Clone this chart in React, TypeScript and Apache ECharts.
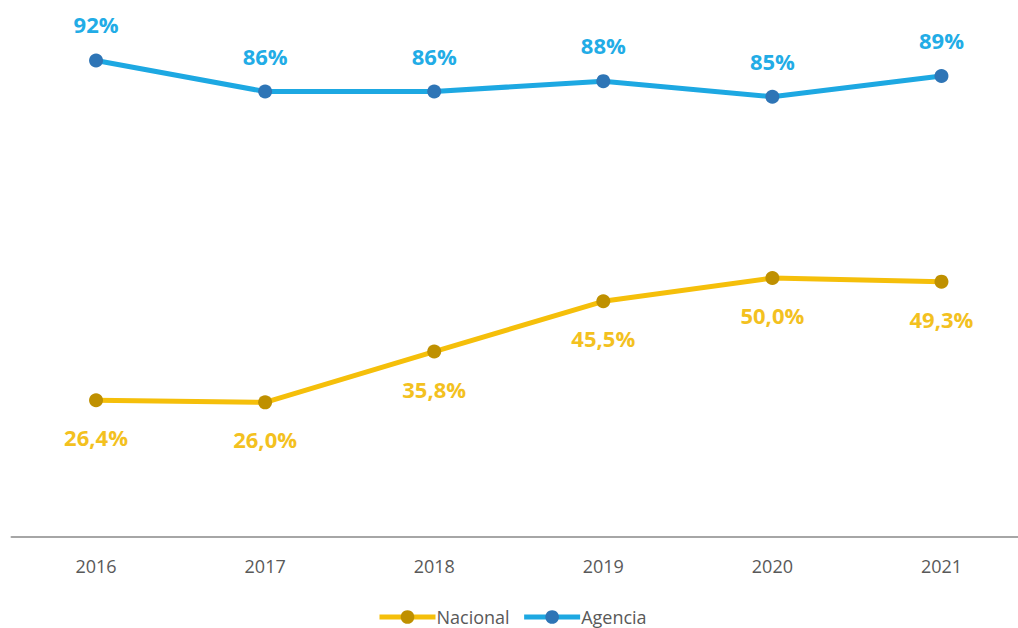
import React, { useEffect, useRef } from "react";
import * as echarts from "echarts";

const years = ["2016", "2017", "2018", "2019", "2020", "2021"];
const nacional = [26.4, 26.0, 35.8, 45.5, 50.0, 49.3];
const agencia = [92, 86, 86, 88, 85, 89];

export default function App() {
  const ref = useRef<HTMLDivElement>(null);
  useEffect(() => {
    if (!ref.current) return;
    const chart = echarts.init(ref.current, null, { renderer: "svg" });
    chart.setOption({
      animation: false,
      backgroundColor: "#ffffff",
      grid: { left: 11.5, right: 0, top: 19, bottom: 91, containLabel: false },
      xAxis: {
        type: "category",
        data: years,
        boundaryGap: true,
        axisLine: { show: true, lineStyle: { color: "#A6A6A6", width: 2 } },
        axisTick: { show: false },
        axisLabel: { color: "#595959", fontSize: 18, margin: 20, fontFamily: "Open Sans" },
      },
      yAxis: {
        type: "value",
        min: 0,
        max: 100,
        show: false,
        splitLine: { show: false },
      },
      legend: {
        top: 603,
        left: 372,
        itemWidth: 56,
        itemHeight: 17,
        itemGap: 12,
        lineStyle: { width: 5 },
        textStyle: { color: "#595959", fontSize: 18, fontFamily: "Open Sans", padding: [0, 0, 0, -4] },
        data: ["Nacional", "Agencia"],
      },
      series: [
        {
          name: "Nacional",
          type: "line",
          data: nacional,
          symbol: "circle",
          symbolSize: 14,
          lineStyle: { color: "#F5BF0A", width: 5 },
          itemStyle: { color: "#BF9000" },
          label: {
            show: true,
            position: "bottom",
            distance: 19,
            color: "#F3C11F",
            fontSize: 22,
            fontWeight: "bold",
            fontFamily: "Open Sans",
            formatter: (p: any) => p.value.toFixed(1).replace(".", ",") + "%",
          },
        },
        {
          name: "Agencia",
          type: "line",
          data: agencia,
          symbol: "circle",
          symbolSize: 14,
          lineStyle: { color: "#1DA8E2", width: 5 },
          itemStyle: { color: "#2E75B6" },
          label: {
            show: true,
            position: "top",
            distance: 18,
            color: "#22ACE6",
            fontSize: 22,
            fontWeight: "bold",
            fontFamily: "Open Sans",
            formatter: (p: any) => p.value + "%",
          },
        },
      ],
    });
    return () => chart.dispose();
  }, []);
  return (
    <div style={{ position: "fixed", left: 0, top: 0, width: 1018, height: 628, overflow: "hidden" }}>
      <div ref={ref} style={{ width: 1026, height: 628 }} />
    </div>
  );
}
